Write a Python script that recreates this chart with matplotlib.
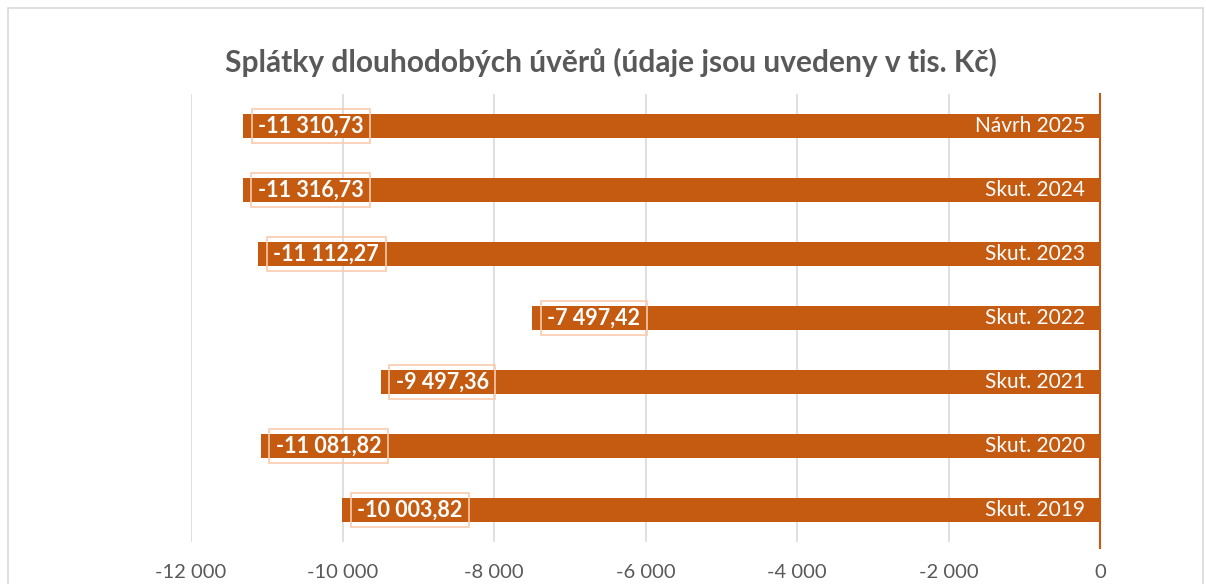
import matplotlib
matplotlib.use("Agg")
import matplotlib.pyplot as plt
from matplotlib.patches import Rectangle

categories = ["Návrh 2025", "Skut. 2024", "Skut. 2023", "Skut. 2022", "Skut. 2021", "Skut. 2020", "Skut. 2019"]
values = [-11310.73, -11316.73, -11112.27, -7497.42, -9497.36, -11081.82, -10003.82]
xticks = [-12000, -10000, -8000, -6000, -4000, -2000, 0]
xtick_labels = ["-12 000", "-10 000", "-8 000", "-6 000", "-4 000", "-2 000", "0"]
title = "Splátky dlouhodobých úvěrů (údaje jsou uvedeny v tis. Kč)"

def fmt(v):
    s = f"{abs(v):,.2f}".replace(",", " ").replace(".", ",")
    return ("-" if v < 0 else "") + s

plt.rcParams['font.family'] = ['Lato', 'DejaVu Sans']
W, H = 1206, 584
fig = plt.figure(figsize=(W / 100, H / 100), dpi=100)
fig.patch.set_facecolor("white")
fig.patches.append(Rectangle((8 / W, -0.1), (1203 - 8) / W, 1.1 - 8 / H, transform=fig.transFigure,
                             fill=False, edgecolor="#D9D9D9", linewidth=1.2))

ax = fig.add_axes([191 / W, 1 - 542 / H, (1100 - 191) / W, (542 - 94) / H])
bar_color = "#C55A11"
ypos = list(range(len(categories)))[::-1]
ax.barh(ypos, values, height=0.375, color=bar_color, zorder=2)
ax.set_xlim(-12000, 0)
ax.set_ylim(-0.5, len(categories) - 0.5)
ax.set_xticks(xticks)
ax.set_xticklabels(xtick_labels, fontsize=14.5, color="#595959")
ax.tick_params(axis="x", length=0, pad=16)
ax.set_yticks([])
for s in ax.spines.values():
    s.set_visible(False)
ax.grid(axis="x", color="#D9D9D9", linewidth=1.2, zorder=0)
ax.axvline(0, color=bar_color, linewidth=1.5, zorder=3, ymin=-0.013, ymax=1.0, clip_on=False)

for y, v, c in zip(ypos, values, categories):
    ax.text(v + 200, y, fmt(v), ha="left", va="center", fontsize=15.5, fontweight="bold", color="white",
            zorder=4, bbox=dict(boxstyle="square,pad=0.3", facecolor="none", edgecolor="#F8CBAD", linewidth=1.2))
    ax.text(-200, y, c, ha="right", va="center", fontsize=15, color="white", zorder=4,
            bbox=dict(boxstyle="square,pad=0.1", facecolor=bar_color, edgecolor="none"))

fig.text(611 / W, 1 - 62 / H, title, ha="center", va="center", fontsize=21.5, fontweight="bold", color="#595959")

fig.savefig("out.png", dpi=100)
